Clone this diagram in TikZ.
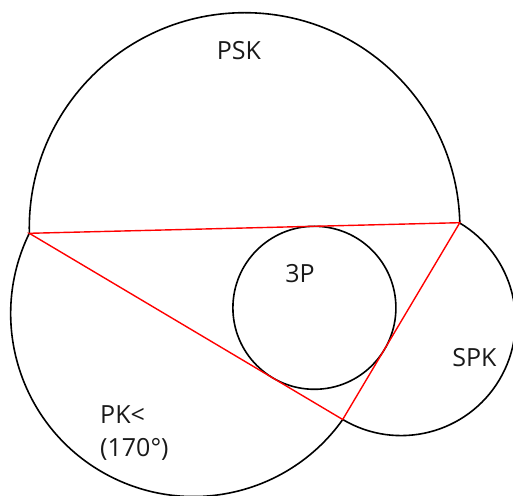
\documentclass[tikz,border=0pt]{standalone}
\usepackage{fontspec}
\setmainfont{Open Sans}
\begin{document}
\begin{tikzpicture}[x=1pt,y=1pt,
  circ/.style={line width=1.6pt, draw=black},
  tri/.style={line width=1.4pt, draw=red, line join=miter},
  lbl/.style={font=\fontsize{25}{33}\selectfont, inner sep=0pt, text=black!90}]
\useasboundingbox (0,0) rectangle (513,495);
\clip (0,0) rectangle (513,495);
\coordinate (A) at (29.3,261.7);
\coordinate (B) at (459.8,272.3);
\coordinate (C) at (342.7,75.5);
\coordinate (I) at (314.4,187.2);
% arcs on the sides
\draw[circ] (B) arc[start angle=1.41, end angle=181.41, radius=215.3];
\draw[circ] (A) arc[start angle=153.94, end angle=324.63, radius=182.9];
\draw[circ] (C) arc[start angle=239.25, end angle=419.25, radius=114.35];
% incircle
\draw[circ] (I) circle[radius=81.5];
% triangle
\draw[tri] (A) -- (B) -- (C) -- cycle;
% labels
\node[lbl] (psk) at (239,444.5) {PSK};
\node[lbl] (tp) at (300,221.5) {3P};
\node[lbl] (spk) at (474.5,137) {SPK};
\node[lbl, anchor=north west, align=left] (pk) at (100,89.5) {PK<\\(170°)};
\end{tikzpicture}
\end{document}
